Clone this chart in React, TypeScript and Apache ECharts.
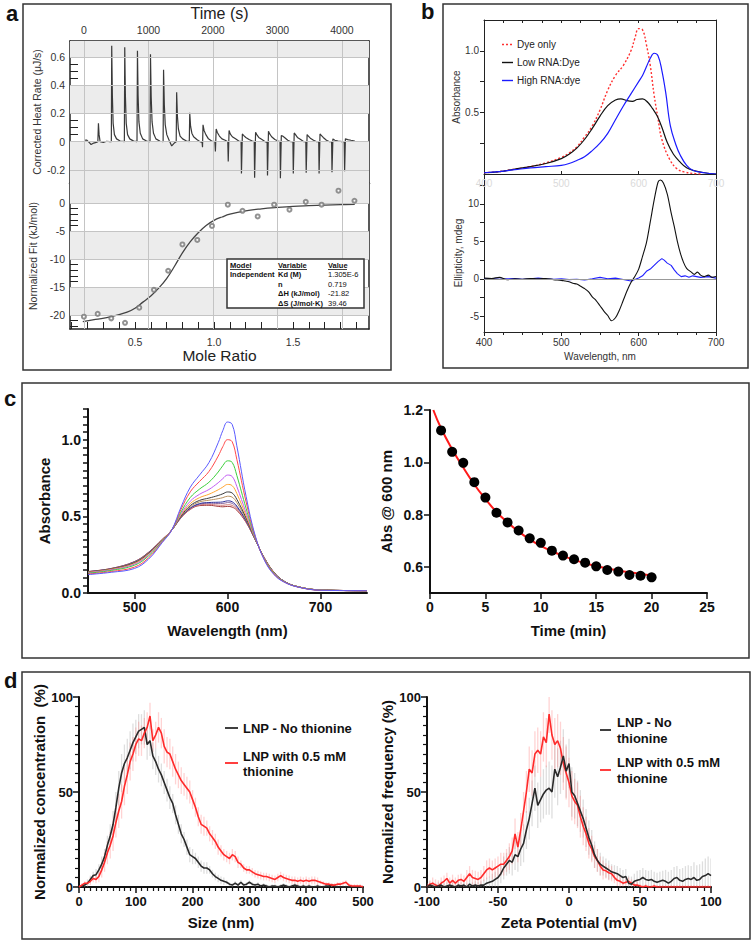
import React, { useEffect, useRef } from "react";
import * as echarts from "echarts";

const FONT = "'Liberation Sans', Arial, Helvetica, sans-serif";

// ---------------- Panel a : ITC ----------------
const heatTrace: number[][] = [
  [0,0.01],[40,0.012],[80,-0.005],[110,-0.02],[150,-0.01],[190,-0.005],[215,0],[224,0.13],[234,0.05],[250,0],[300,-0.005],[350,0.003],[400,0],
  [424,0],[430,0.68],[440,0.33],[452,0.13],[472,0.05],[505,0.02],[560,0.005],
  [626,0],[632,0.67],[642,0.33],[655,0.13],[676,0.05],[710,0.02],[770,0.004],
  [822,0],[829,0.645],[839,0.33],[852,0.14],[873,0.06],[910,0.02],[970,0.005],
  [1024,0],[1031,0.62],[1042,0.32],[1056,0.14],[1078,0.06],[1115,0.02],[1180,0.003],
  [1227,0],[1234,0.51],[1246,0.26],[1260,0.12],[1284,0.05],[1320,0.01],[1360,-0.03],[1400,-0.01],
  [1430,0],[1437,0.35],[1449,0.18],[1464,0.09],[1490,0.04],[1530,0.02],[1590,0.005],
  [1633,0],[1640,0.205],[1653,0.11],[1673,0.06],[1700,0.035],[1750,0.015],[1800,0],
  [1832,-0.005],[1838,-0.04],[1846,0.12],[1862,0.08],[1890,0.05],[1930,0.02],[1980,0.005],
  [2030,0],[2038,-0.07],[2050,0.09],[2068,0.065],[2100,0.04],[2140,0.02],[2190,0.01],
  [2230,0],[2237,-0.14],[2250,0.08],[2268,0.055],[2300,0.035],[2350,0.02],[2400,0.005],
  [2436,0],[2442,-0.225],[2456,0.055],[2474,0.045],[2510,0.03],[2560,0.015],[2610,0.005],
  [2640,0],[2646,-0.255],[2661,0.066],[2680,0.05],[2710,0.03],[2760,0.015],[2810,0],
  [2840,-0.005],[2846,-0.24],[2861,0.074],[2880,0.055],[2910,0.035],[2960,0.015],[3010,0.005],
  [3040,0],[3046,-0.26],[3060,0.043],[3080,0.04],[3110,0.03],[3160,0.01],[3210,0],
  [3240,0],[3246,-0.225],[3260,0.062],[3280,0.05],[3310,0.03],[3360,0.015],[3410,0],
  [3440,0],[3446,-0.22],[3460,0.05],[3480,0.04],[3510,0.025],[3560,0.01],[3610,0],
  [3640,0],[3646,-0.225],[3660,0.055],[3680,0.045],[3710,0.03],[3760,0.01],[3810,0],
  [3840,0],[3846,-0.217],[3860,0.02],[3890,0.01],[3940,0.005],[4000,0],
  [4036,0],[4042,-0.21],[4054,0.02],[4090,0.015],[4140,0.01],[4200,0.005],
];
const aTimeLabels = [0, 1000, 2000, 3000, 4000];
const aTimeTicks = [0, 500, 1000, 1500, 2000, 2500, 3000, 3500, 4000];
const aHeatLabels = [-0.2, 0, 0.2, 0.4, 0.6];
const aHeatTicks = [-0.25,-0.2,-0.15,-0.1,-0.05,0,0.05,0.1,0.15,0.2,0.25,0.3,0.35,0.4,0.45,0.5,0.55,0.6,0.65,0.7];
const moleRatio = [0.177,0.264,0.35,0.437,0.527,0.62,0.71,0.8,0.894,0.987,1.087,1.18,1.276,1.38,1.477,1.58,1.68,1.787,1.888];
const fitHeat = [-20.3,-19.8,-20.6,-21.4,-18.7,-15.5,-12.1,-7.4,-6.6,-4.1,-0.3,-1.4,-2.4,-0.3,-1.2,0.2,-0.3,2.2,0.4];
const fitCurveRatio = [0.17,0.25,0.35,0.45,0.5,0.55,0.6,0.65,0.7,0.75,0.8,0.85,0.9,0.95,1.0,1.05,1.1,1.2,1.3,1.4,1.5,1.6,1.7,1.8,1.89];
const fitCurveHeat = [-21.2,-20.8,-20.3,-19.5,-18.8,-17.7,-16.6,-15.2,-13.5,-11.3,-8.9,-6.9,-5.3,-4.0,-3.1,-2.5,-2.0,-1.4,-1.05,-0.8,-0.6,-0.48,-0.38,-0.3,-0.25];
const aMoleLabels = [0.5, 1.0, 1.5];
const aMoleTicks = [0.1,0.2,0.3,0.4,0.5,0.6,0.7,0.8,0.9,1.0,1.1,1.2,1.3,1.4,1.5,1.6,1.7,1.8,1.9];
const aFitLabels = [-20, -15, -10, -5, 0];
const aFitTicks = [-22,-21,-20,-19,-18,-17,-16,-15,-14,-13,-12,-11,-10,-9,-8,-7,-6,-5,-4,-3,-2,-1,0,1,2,3];

// ---------------- Panel b : absorbance / CD ----------------
const dyeOnly: number[][] = [[400,0.01],[420,0.02],[440,0.04],[460,0.06],[480,0.09],[500,0.135],[510,0.17],[520,0.22],[530,0.3],[540,0.39],[550,0.52],[560,0.68],[570,0.8],[580,0.88],[590,1.0],[595,1.1],[600,1.18],[605,1.17],[610,1.05],[615,0.88],[620,0.64],[625,0.45],[630,0.28],[640,0.12],[650,0.04],[660,0.015],[670,0.005],[680,0.0]];
const lowRna: number[][] = [[400,0.01],[420,0.02],[440,0.04],[460,0.06],[480,0.085],[500,0.125],[510,0.16],[520,0.21],[530,0.28],[540,0.37],[550,0.47],[560,0.555],[570,0.6],[577,0.61],[585,0.595],[592,0.59],[598,0.605],[605,0.61],[612,0.58],[618,0.53],[624,0.47],[630,0.38],[637,0.255],[645,0.16],[654,0.094],[662,0.05],[670,0.03],[685,0.01],[700,0.0]];
const highRna: number[][] = [[400,0.01],[420,0.02],[440,0.035],[460,0.05],[480,0.06],[500,0.07],[510,0.085],[520,0.11],[530,0.14],[540,0.19],[550,0.25],[560,0.33],[570,0.44],[580,0.55],[590,0.65],[600,0.75],[605,0.8],[610,0.87],[615,0.94],[620,0.98],[625,0.96],[630,0.84],[635,0.66],[641,0.39],[648,0.24],[654,0.15],[662,0.07],[670,0.03],[685,0.01],[700,0.0]];
const cdLow: number[][] = [[400,0.1],[410,0.05],[420,0.2],[430,-0.1],[440,0.0],[450,-0.05],[460,0.05],[470,0.0],[480,0.05],[490,-0.1],[500,-0.2],[505,-0.3],[510,-0.4],[515,-0.6],[520,-0.7],[525,-1.0],[530,-1.3],[535,-1.7],[540,-2.4],[545,-2.9],[550,-3.6],[555,-4.3],[560,-4.9],[565,-5.6],[570,-5.2],[575,-4.2],[580,-2.9],[585,-1.6],[590,-0.5],[595,0.3],[600,1.3],[605,3.0],[610,4.8],[615,7.6],[620,10.5],[625,12.9],[628,13.2],[632,12.8],[637,11.3],[642,8.8],[646,7.0],[650,5.0],[654,3.4],[658,2.2],[662,1.4],[668,0.9],[672,0.6],[676,0.9],[680,0.5],[685,0.3],[690,0.5],[695,0.2],[700,0.3]];
const cdHigh: number[][] = [[400,0.0],[410,0.05],[420,-0.05],[430,0.0],[440,0.05],[450,-0.05],[460,0.0],[470,0.1],[480,0.0],[490,-0.05],[500,0.0],[510,-0.1],[520,-0.05],[530,-0.15],[540,0.0],[550,0.2],[560,0.0],[570,0.1],[580,-0.1],[590,-0.3],[595,-0.1],[600,0.1],[605,0.4],[610,1.0],[615,1.3],[620,1.8],[625,2.3],[630,2.7],[633,2.5],[637,2.1],[642,1.8],[646,1.2],[650,0.7],[655,0.3],[660,0.4],[665,0.2],[670,0.4],[680,0.2],[690,0.3],[700,0.1]];
const bAbsLabels = [0.5, 1.0];
const bAbsTicks = [0.25, 0.5, 0.75, 1.0];
const bCdLabels = [-5, 0, 5, 10];
const bCdTicks = [-5, -2.5, 0, 2.5, 5, 7.5, 10, 12.5];

// ---------------- Panel c ----------------
const specWl = [450,475,500,515,530,540,550,560,570,580,590,595,600,605,610,620,630,640,650,660,675,700,750];
const specBlue   = [0.12,0.135,0.16,0.22,0.33,0.41,0.56,0.69,0.77,0.85,0.98,1.06,1.115,1.10,0.96,0.63,0.37,0.21,0.12,0.074,0.04,0.018,0.015];
const specRed    = [0.124,0.14,0.169,0.229,0.334,0.41,0.545,0.66,0.728,0.792,0.893,0.955,1.0,0.987,0.872,0.594,0.365,0.213,0.123,0.075,0.04,0.018,0.015];
const specGreen  = [0.129,0.147,0.181,0.241,0.339,0.41,0.528,0.623,0.678,0.722,0.789,0.831,0.862,0.852,0.767,0.552,0.359,0.217,0.127,0.077,0.041,0.019,0.015];
const specViolet = [0.133,0.151,0.188,0.248,0.343,0.41,0.516,0.599,0.644,0.675,0.719,0.746,0.769,0.76,0.695,0.523,0.354,0.219,0.129,0.078,0.041,0.019,0.015];
const specOrange = [0.135,0.154,0.193,0.253,0.345,0.41,0.508,0.583,0.622,0.644,0.673,0.691,0.708,0.7,0.649,0.504,0.352,0.221,0.131,0.078,0.042,0.02,0.015];
const specBlack  = [0.137,0.156,0.197,0.257,0.347,0.41,0.502,0.57,0.604,0.619,0.636,0.647,0.659,0.652,0.611,0.489,0.349,0.222,0.132,0.079,0.042,0.02,0.015];
const specTan    = [0.138,0.157,0.2,0.26,0.348,0.41,0.498,0.562,0.594,0.605,0.615,0.622,0.631,0.625,0.59,0.48,0.348,0.223,0.133,0.079,0.042,0.02,0.015];
const specNavy   = [0.139,0.158,0.202,0.262,0.349,0.41,0.495,0.554,0.583,0.59,0.592,0.594,0.601,0.595,0.567,0.471,0.347,0.224,0.134,0.08,0.042,0.02,0.015];
const specPurple = [0.139,0.159,0.203,0.263,0.349,0.41,0.493,0.552,0.579,0.585,0.584,0.584,0.59,0.584,0.559,0.468,0.346,0.224,0.134,0.08,0.042,0.02,0.015];
const specPink   = [0.14,0.16,0.204,0.264,0.35,0.41,0.491,0.548,0.574,0.578,0.573,0.572,0.576,0.571,0.548,0.463,0.346,0.225,0.135,0.08,0.042,0.02,0.015];
const specBrown  = [0.14,0.16,0.205,0.265,0.35,0.41,0.49,0.545,0.57,0.572,0.565,0.562,0.565,0.56,0.54,0.46,0.345,0.225,0.135,0.08,0.042,0.02,0.015];
const specSeries = [
  { name: "t0", color: "#5b5bff", values: specBlue },
  { name: "t1", color: "#ff4a4a", values: specRed },
  { name: "t2", color: "#3ccf3c", values: specGreen },
  { name: "t3", color: "#c25cf2", values: specViolet },
  { name: "t4", color: "#ffa534", values: specOrange },
  { name: "t5", color: "#3a3a3a", values: specBlack },
  { name: "t6", color: "#b89060", values: specTan },
  { name: "t7", color: "#30309a", values: specNavy },
  { name: "t8", color: "#8a6aa0", values: specPurple },
  { name: "t9", color: "#d47a7a", values: specPink },
  { name: "t10", color: "#a03838", values: specBrown },
];
const cWlLabels = [500, 600, 700];
const cAbsLabels = [0, 0.5, 1.0];
const cAbsTicks = [0,0.05,0.1,0.15,0.2,0.25,0.3,0.35,0.4,0.45,0.5,0.55,0.6,0.65,0.7,0.75,0.8,0.85,0.9,0.95,1.0,1.05,1.1,1.15,1.2];
const kinTime = [1,2,3,4,5,6,7,8,9,10,11,12,13,14,15,16,17,18,19,20];
const kinAbs = [1.122,1.04,0.998,0.924,0.865,0.807,0.77,0.739,0.709,0.692,0.662,0.643,0.629,0.616,0.602,0.588,0.582,0.569,0.566,0.56];
const kinFitTime = [0.3,1,2,3,4,5,6,7,8,9,10,11,12,13,14,15,16,17,18,19,20];
const kinFitAbs = [1.2,1.13,1.05,0.98,0.915,0.86,0.81,0.77,0.735,0.705,0.68,0.66,0.642,0.627,0.614,0.603,0.594,0.586,0.579,0.573,0.568];
const cKinLabels = [0.6, 0.8, 1.0, 1.2];

// ---------------- Panel d ----------------
const sizeStart = 0, sizeStep = 5;
const sizeBlack = [0,0.5,1,2,4,6,6.5,9,12,16, 22,27,33,42,52,60,65,68,72,76, 79,82,83,84,75,77,69,66,62,59, 55,51,47,44,38,33,28,25,21,17, 16,15,13,11,10,10,9,7,5.5,4.5, 3.5,3,2.5,1.5,1,2,1,2.5,1,1.5, 2.5,1.5,1,1.5,0.5,1,0.5,0,0.5,0.5, 0,0.5,1,0.5,0,0.5,1,0.5,0,0.5, 0,0.5,0,0,0.5,0,0,0.5,0.5,1, 0.5,0,0,0,0,0,0,0,0,0,0];
const sizeRed = [0,1,2,2,3,4.5,4,5.5,9,13, 18,22,27,34,40,45,53,59,66,70, 75,78,77,81,84,90,77,80,84,81, 74,71,70,66,62,59,56,54,52,50, 46,42,37,33,32,31,28,26,24,21, 19,17,16,15,17,16,13,12,10,9, 9,8,7,6.5,6,5.5,5.5,5,4.5,4, 5,6,5,4.5,4,3.5,3.5,3,3.5,3, 3.5,3,3.5,3.5,3,2.5,2,1.5,1.5,1, 1,1.5,1.5,2,2.5,1,0.5,0.5,0.5,0.5,0];
const sizeErrBlack = [1,1,1,2,2,2,3,3,4,4, 5,6,7,8,9,10,10,10,10,10, 9,9,8,9,8,8,7,7,7,6, 6,6,6,5,5,5,5,4,4,4, 4,3,3,3,3,3,2,2,2,2, 2,2,1,1,1,1,1,1,1,1, 1,1,1,1,1,1,1,1,1,1, 1,1,1,1,1,1,1,1,1,1, 1,1,1,1,1,1,1,1,1,1, 1,1,1,1,1,1,1,1,1,1,1];
const sizeErrRed = [1,1,1,1,2,2,2,3,4,5, 6,7,8,8,9,9,10,10,10,9, 9,9,8,8,8,7,6,7,8,8, 9,8,8,8,8,7,7,6,6,6, 5,5,5,5,5,4,4,4,4,4, 3,3,3,3,3,3,3,2,2,2, 2,2,2,2,2,2,2,2,2,2, 2,2,2,2,2,2,2,2,2,2, 2,2,2,2,2,1,1,1,1,1, 1,1,1,1,1,1,1,1,1,1,1];
const zetaStart = -100, zetaStep = 2;
const zetaBlack = [0,1,0.5,0,0.5,1,0,0.5,1,0.5, 0,1,0.5,1,0,1.5,0.5,1,0.5,1, 1,2,2.5,3,4,5,7,10,12,14, 13,17,16,20,23,30,36,44,52,43, 46,49,51,52,50,62,58,63,69,61, 65,50,48,44,40,36,31,26,22,17, 14,12,11,10,9,8,7.5,7,6,5, 5.5,2,1.5,3,3.5,4,5,4,3.5,4, 3,2.5,3,3.5,3,2,3,4.5,5,3.5, 3,4,4.5,4,5,3.5,4,5.5,6,7,6];
const zetaRed = [0,1.5,2,1,0.5,2,3,4.5,2,3.5, 2,3.5,4,3,5,7,5,4.5,4,5, 7,9,10,9,10,11,12,12,14,16, 19,28,21,30,40,50,62,60,70,72, 70,79,76,91,80,75,77,73,65,60, 55,48,45,43,37,32,28,23,20,16, 14,11,9,8.5,7.5,7,5,3.5,3,2, 2.5,3,2,1,1,0.5,0,0.5,0,0, 0.5,0,0,0,0,0,0,0,0,0, 0,0,0,0,0,0,0,0,0,0,0];
const zetaErrBlack = [2,2,2,2,2,2,2,2,2,2, 2,2,2,2,2,2,2,2,2,2, 3,3,3,4,4,5,5,6,6,7, 7,8,8,9,10,10,11,12,12,12, 12,13,13,14,14,15,15,14,14,14, 13,13,12,12,11,10,10,9,8,7, 6,6,5,5,5,4,4,4,4,4, 4,4,4,4,5,5,5,5,5,5, 5,5,5,5,6,6,6,6,6,6, 7,7,7,7,8,8,8,8,9,9,9];
const zetaErrRed = [2,2,3,3,3,3,3,3,3,3, 3,3,3,3,4,4,4,4,4,4, 4,5,5,5,5,5,6,6,6,7, 7,8,8,9,10,11,12,12,12,12, 12,13,13,10,13,14,14,14,14,14, 13,13,12,12,11,10,9,8,7,6, 6,5,5,4,4,4,3,3,3,2, 2,2,2,2,2,1,1,1,1,1, 1,1,1,1,1,1,1,1,1,1, 1,1,1,1,1,1,1,1,1,1,1];

// ---------------- helpers ----------------
const pairs = (xs: number[], ys: number[]) => xs.map((x, i) => [x, ys[i]]);
const seq = (start: number, step: number, vals: number[]) => vals.map((v, i) => [start + i * step, v]);
const triples = (start: number, step: number, vals: number[], errs: number[]) =>
  vals.map((v, i) => [start + i * step, v, errs[i]]);

const lineSeries = (xi: number, yi: number, data: number[][], color: string, width: number, extra: any = {}) => ({
  type: "line", xAxisIndex: xi, yAxisIndex: yi, data, showSymbol: false, symbol: "none",
  lineStyle: { color, width }, itemStyle: { color }, silent: true, z: 3, ...extra,
});

const errSeries = (xi: number, yi: number, data: number[][], color: string) => ({
  type: "custom", xAxisIndex: xi, yAxisIndex: yi, silent: true, z: 2, clip: true,
  encode: { x: 0, y: 1 },
  renderItem: (_p: any, api: any) => {
    const x = api.value(0), y = api.value(1), e = api.value(2);
    const lo = api.coord([x, Math.max(0, y - e)]);
    const hi = api.coord([x, y + e]);
    return { type: "line", shape: { x1: lo[0], y1: lo[1], x2: hi[0], y2: hi[1] }, style: { stroke: color, lineWidth: 1.3 } };
  },
  data,
});

const gridLines = (xi: number, yi: number, dir: "xAxis" | "yAxis", values: number[], color = "#c4c4c4") => ({
  type: "line", xAxisIndex: xi, yAxisIndex: yi, data: [], silent: true, z: 1,
  markLine: {
    silent: true, symbol: ["none", "none"], label: { show: false }, animation: false,
    lineStyle: { color, width: 1, type: "solid" },
    data: values.map((v) => ({ [dir]: v })),
  },
});

const A_TXT = { fontFamily: FONT, fontSize: 10, color: "#333" };
const B_TXT = { fontFamily: FONT, fontSize: 10, color: "#333" };
const C_TXT = { fontFamily: FONT, fontSize: 14, fontWeight: "bold", color: "#111" };
const D_TXT = { fontFamily: FONT, fontSize: 13, fontWeight: "bold", color: "#111" };
const C_NAME = { fontFamily: FONT, fontSize: 15, fontWeight: "bold", color: "#111" };

const noSplit = { show: false };
const boldLine = { show: true, onZero: false, lineStyle: { color: "#111", width: 2 } };
const boldTick = { lineStyle: { color: "#111", width: 1.5 } };
const plain = (v: number) => String(v);

const rightLine = (gridIndex: number, color = "#222", width = 1.2) => ({
  gridIndex, type: "value", position: "right", min: 0, max: 1,
  axisLine: { show: true, onZero: false, lineStyle: { color, width } },
  axisTick: { show: false }, axisLabel: { show: false }, splitLine: noSplit,
});

const gtext = (text: string, x: number, y: number, size: number, weight = "normal", color = "#111", extra: any = {}) => ({
  type: "text", x, y, z: 100, silent: true,
  style: { text, fontFamily: FONT, fontSize: size, fontWeight: weight, fill: color, align: "left", verticalAlign: "middle", ...extra },
});
const gline = (x1: number, y1: number, x2: number, y2: number, color: string, width: number, dash?: number[]) => ({
  type: "line", z: 100, silent: true, shape: { x1, y1, x2, y2 },
  style: { stroke: color, lineWidth: width, lineDash: dash },
});
const frame = (x: number, y: number, w: number, h: number) => ({
  type: "rect", z: 0, silent: true, shape: { x, y, width: w, height: h },
  style: { fill: "none", stroke: "#333", lineWidth: 1.5 },
});

function buildOption(): any {
  const grids = [
    { left: 70, top: 41, width: 299, height: 142 },   // 0 a top
    { left: 70, top: 183, width: 299, height: 146 },  // 1 a bottom
    { left: 70, top: 41, width: 299, height: 288 },   // 2 a full (vertical grid)
    { left: 484, top: 20, width: 232, height: 154 },  // 3 b top
    { left: 484, top: 174, width: 232, height: 158 }, // 4 b bottom
    { left: 88, top: 409, width: 279, height: 184 },  // 5 c left
    { left: 430, top: 410, width: 277, height: 183 }, // 6 c right
    { left: 79, top: 697, width: 284, height: 190 },  // 7 d left
    { left: 427, top: 697, width: 284, height: 190 }, // 8 d right
  ].map((g) => ({ ...g, containLabel: false, outerBoundsMode: "none" }));

  const xAxis: any[] = [
    { // 0 time (top)
      gridIndex: 0, type: "value", position: "top", min: -217, max: 4420,
      axisLine: { show: true, onZero: false, lineStyle: { color: "#222", width: 1.5 } },
      axisTick: { show: true, inside: true, length: 7, customValues: aTimeTicks, lineStyle: { color: "#222" } },
      axisLabel: { ...A_TXT, fontSize: 10.5, customValues: aTimeLabels, margin: 6, formatter: plain },
      splitLine: noSplit,
      name: "Time (s)", nameLocation: "middle", nameGap: 20,
      nameTextStyle: { fontFamily: FONT, fontSize: 16, color: "#222" },
    },
    { // 1 mole ratio
      gridIndex: 1, type: "value", position: "bottom", min: 0.089, max: 1.98,
      axisLine: { show: true, onZero: false, lineStyle: { color: "#222", width: 1.5 } },
      axisTick: { show: true, inside: true, length: 7, customValues: aMoleTicks, lineStyle: { color: "#222" } },
      axisLabel: { ...A_TXT, fontSize: 10.5, customValues: aMoleLabels, margin: 7, formatter: (v: number) => v.toFixed(1) },
      splitLine: noSplit,
      name: "Mole Ratio", nameLocation: "middle", nameGap: 18,
      nameTextStyle: { fontFamily: FONT, fontSize: 15.5, color: "#222" },
    },
    { gridIndex: 2, type: "value", min: -217, max: 4420, show: false }, // 2
    { // 3 b top bottom-edge, faded labels
      gridIndex: 3, type: "value", position: "bottom", min: 400, max: 700, interval: 100,
      axisLine: { show: true, onZero: false, lineStyle: { color: "#222", width: 1 } },
      axisTick: { show: true, inside: true, length: 3, lineStyle: { color: "#222" } },
      axisLabel: { ...B_TXT, color: "#dadada", margin: 4 },
      splitLine: noSplit,
    },
    { // 4 b top top-edge ticks
      gridIndex: 3, type: "value", position: "top", min: 400, max: 700, interval: 25,
      axisLine: { show: true, onZero: false, lineStyle: { color: "#222", width: 1 } },
      axisTick: { show: true, inside: true, length: 3, lineStyle: { color: "#222" } },
      axisLabel: { show: false }, splitLine: noSplit,
    },
    { // 5 b bottom wavelength
      gridIndex: 4, type: "value", position: "bottom", min: 400, max: 700, interval: 100,
      axisLine: { show: true, onZero: false, lineStyle: { color: "#222", width: 1 } },
      axisTick: { show: true, length: 4, lineStyle: { color: "#222" } },
      minorTick: { show: true, splitNumber: 4, length: 3, lineStyle: { color: "#222" } },
      axisLabel: { ...B_TXT, margin: 5 },
      splitLine: noSplit,
      name: "Wavelength, nm", nameLocation: "middle", nameGap: 19,
      nameTextStyle: { fontFamily: FONT, fontSize: 10, color: "#333" },
    },
    { // 6 c wavelength
      gridIndex: 5, type: "value", position: "bottom", min: 450, max: 750,
      axisLine: boldLine,
      axisTick: { show: true, length: 6, customValues: cWlLabels, ...boldTick },
      axisLabel: { ...C_TXT, customValues: cWlLabels, margin: 7 },
      splitLine: noSplit,
      name: "Wavelength (nm)", nameLocation: "middle", nameGap: 30, nameTextStyle: C_NAME,
    },
    { // 7 c time
      gridIndex: 6, type: "value", position: "bottom", min: 0, max: 25, interval: 5,
      axisLine: boldLine,
      axisTick: { show: true, length: 6, ...boldTick },
      axisLabel: { ...C_TXT, margin: 7 },
      splitLine: noSplit,
      name: "Time (min)", nameLocation: "middle", nameGap: 30, nameTextStyle: C_NAME,
    },
    { // 8 d size
      gridIndex: 7, type: "value", position: "bottom", min: 0, max: 500, interval: 100,
      axisLine: boldLine,
      axisTick: { show: true, length: 6, ...boldTick },
      minorTick: { show: true, splitNumber: 10, length: 4, lineStyle: { color: "#111", width: 1.2 } },
      axisLabel: { ...D_TXT, margin: 8 },
      splitLine: noSplit,
      name: "Size (nm)", nameLocation: "middle", nameGap: 28, nameTextStyle: C_NAME,
    },
    { // 9 d zeta
      gridIndex: 8, type: "value", position: "bottom", min: -100, max: 100, interval: 50,
      axisLine: boldLine,
      axisTick: { show: true, length: 6, ...boldTick },
      minorTick: { show: true, splitNumber: 10, length: 4, lineStyle: { color: "#111", width: 1.2 } },
      axisLabel: { ...D_TXT, margin: 8 },
      splitLine: noSplit,
      name: "Zeta Potential (mV)", nameLocation: "middle", nameGap: 28, nameTextStyle: C_NAME,
    },
    { // 10 a separator
      gridIndex: 1, type: "value", position: "top", min: 0.089, max: 1.98,
      axisLine: { show: true, onZero: false, lineStyle: { color: "#555", width: 2.5 } },
      axisTick: { show: false }, axisLabel: { show: false }, splitLine: noSplit,
    },
  ];

  const yAxis: any[] = [
    { // 0 heat
      gridIndex: 0, type: "value", min: -0.293, max: 0.714,
      axisLine: { show: true, onZero: false, lineStyle: { color: "#222", width: 1.5 } },
      axisTick: { show: true, inside: true, length: 8, customValues: aHeatTicks, lineStyle: { color: "#222" } },
      axisLabel: { ...A_TXT, fontSize: 10.5, customValues: aHeatLabels, margin: 5, formatter: (v: number) => (v === 0 ? "0" : v.toFixed(1)) },
      splitLine: noSplit,
      name: "Corrected Heat Rate (μJ/s)", nameLocation: "middle", nameGap: 28,
      nameTextStyle: { fontFamily: FONT, fontSize: 10.5, color: "#333" },
    },
    { // 1 fit
      gridIndex: 1, type: "value", min: -22.5, max: 3.57,
      axisLine: { show: true, onZero: false, lineStyle: { color: "#222", width: 1.5 } },
      axisTick: { show: true, inside: true, length: 8, customValues: aFitTicks, lineStyle: { color: "#222" } },
      axisLabel: { ...A_TXT, fontSize: 10.5, customValues: aFitLabels, margin: 5 },
      splitLine: noSplit,
      name: "Normalized Fit (kJ/mol)", nameLocation: "middle", nameGap: 32,
      nameTextStyle: { fontFamily: FONT, fontSize: 10.5, color: "#333" },
    },
    { gridIndex: 2, type: "value", min: 0, max: 1, show: false }, // 2
    { // 3 absorbance b
      gridIndex: 3, type: "value", min: 0, max: 1.25,
      axisLine: { show: true, onZero: false, lineStyle: { color: "#222", width: 1 } },
      axisTick: { show: true, length: 4, customValues: bAbsTicks, lineStyle: { color: "#222" } },
      axisLabel: { ...B_TXT, customValues: bAbsLabels, margin: 5, formatter: (v: number) => v.toFixed(1) },
      splitLine: noSplit,
      name: "Absorbance", nameLocation: "middle", nameGap: 21,
      nameTextStyle: { fontFamily: FONT, fontSize: 10, color: "#333" },
    },
    rightLine(3, "#222", 1), // 4
    { // 5 ellipticity
      gridIndex: 4, type: "value", min: -7.1, max: 14.0,
      axisLine: { show: true, onZero: false, lineStyle: { color: "#222", width: 1 } },
      axisTick: { show: true, length: 4, customValues: bCdTicks, lineStyle: { color: "#222" } },
      axisLabel: { ...B_TXT, customValues: bCdLabels, margin: 5 },
      splitLine: noSplit,
      name: "Ellipticity, mdeg", nameLocation: "middle", nameGap: 21,
      nameTextStyle: { fontFamily: FONT, fontSize: 10, color: "#333" },
    },
    rightLine(4, "#222", 1), // 6
    { // 7 absorbance c
      gridIndex: 5, type: "value", min: 0, max: 1.2,
      axisLine: boldLine,
      axisTick: { show: true, length: 5, customValues: cAbsTicks, ...boldTick },
      axisLabel: { ...C_TXT, customValues: cAbsLabels, margin: 7, formatter: (v: number) => v.toFixed(1) },
      splitLine: noSplit,
      name: "Absorbance", nameLocation: "middle", nameGap: 36, nameTextStyle: C_NAME,
    },
    { // 8 abs @ 600
      gridIndex: 6, type: "value", min: 0.5, max: 1.2,
      axisLine: boldLine,
      axisTick: { show: true, length: 6, customValues: cKinLabels, ...boldTick },
      axisLabel: { ...C_TXT, customValues: cKinLabels, margin: 7, formatter: (v: number) => v.toFixed(1) },
      splitLine: noSplit,
      name: "Abs @ 600 nm", nameLocation: "middle", nameGap: 36, nameTextStyle: C_NAME,
    },
    { // 9 norm conc
      gridIndex: 7, type: "value", min: 0, max: 100, interval: 50,
      axisLine: boldLine,
      axisTick: { show: true, length: 6, ...boldTick },
      minorTick: { show: true, splitNumber: 10, length: 4, lineStyle: { color: "#111", width: 1.2 } },
      axisLabel: { ...D_TXT, margin: 6 },
      splitLine: noSplit,
      name: "Normalized concentration  (%)", nameLocation: "middle", nameGap: 31, nameTextStyle: C_NAME,
    },
    { // 10 norm freq
      gridIndex: 8, type: "value", min: 0, max: 100, interval: 50,
      axisLine: boldLine,
      axisTick: { show: true, length: 6, ...boldTick },
      minorTick: { show: true, splitNumber: 10, length: 4, lineStyle: { color: "#111", width: 1.2 } },
      axisLabel: { ...D_TXT, margin: 6 },
      splitLine: noSplit,
      name: "Normalized frequency (%)", nameLocation: "middle", nameGap: 31, nameTextStyle: C_NAME,
    },
    rightLine(0, "#222", 1.5), // 11
    rightLine(1, "#222", 1.5), // 12
  ];

  const series: any[] = [
    // ---- panel a backgrounds
    {
      type: "line", xAxisIndex: 0, yAxisIndex: 0, data: [], silent: true, z: 0,
      markArea: {
        silent: true, itemStyle: { color: "#ececec" },
        data: [[{ yAxis: 0.6 }, { yAxis: 0.714 }], [{ yAxis: 0.2 }, { yAxis: 0.4 }], [{ yAxis: -0.293 }, { yAxis: 0 }]],
      },
    },
    {
      type: "line", xAxisIndex: 1, yAxisIndex: 1, data: [], silent: true, z: 0,
      markArea: {
        silent: true, itemStyle: { color: "#ececec" },
        data: [[{ yAxis: 0 }, { yAxis: 3.57 }], [{ yAxis: -10 }, { yAxis: -5 }], [{ yAxis: -20 }, { yAxis: -15 }]],
      },
    },
    gridLines(0, 0, "yAxis", aHeatLabels),
    gridLines(1, 1, "yAxis", aFitLabels),
    gridLines(2, 2, "xAxis", aTimeLabels),
    lineSeries(0, 0, heatTrace, "#3a3a3a", 1.2, { z: 4 }),
    lineSeries(1, 1, pairs(fitCurveRatio, fitCurveHeat), "#444", 1.3, { smooth: 0.4, z: 4 }),
    {
      type: "scatter", xAxisIndex: 1, yAxisIndex: 1, data: pairs(moleRatio, fitHeat), silent: true, z: 5,
      symbol: "emptyCircle", symbolSize: 4, itemStyle: { color: "#777", borderWidth: 0.8 },
    },
    // ---- panel b
    lineSeries(3, 3, dyeOnly, "#ff3030", 1.4, { smooth: 0.4, lineStyle: { color: "#ff3030", width: 1.4, type: [2, 2] } }),
    lineSeries(3, 3, lowRna, "#111", 1.2, { smooth: 0.4 }),
    lineSeries(3, 3, highRna, "#1a1aff", 1.2, { smooth: 0.4 }),
    gridLines(5, 5, "yAxis", [0], "#999"),
    lineSeries(5, 5, cdHigh, "#2020ff", 1.1),
    lineSeries(5, 5, cdLow, "#111", 1.1, { smooth: 0.3 }),
    // ---- panel c
    ...specSeries.slice().reverse().map((s) => lineSeries(6, 7, pairs(specWl, s.values), s.color, 1, { smooth: 0.4, name: s.name })),
    lineSeries(7, 8, pairs(kinFitTime, kinFitAbs), "#ff1a1a", 2, { smooth: 0.5 }),
    {
      type: "scatter", xAxisIndex: 7, yAxisIndex: 8, data: pairs(kinTime, kinAbs), silent: true, z: 5,
      symbol: "circle", symbolSize: 10, itemStyle: { color: "#000", opacity: 1 },
    },
    // ---- panel d
    errSeries(8, 9, triples(sizeStart, sizeStep, sizeBlack, sizeErrBlack), "rgba(160,160,160,0.35)"),
    errSeries(8, 9, triples(sizeStart, sizeStep, sizeRed, sizeErrRed), "rgba(255,110,110,0.3)"),
    lineSeries(8, 9, seq(sizeStart, sizeStep, sizeBlack), "#2a2a2a", 1.6),
    lineSeries(8, 9, seq(sizeStart, sizeStep, sizeRed), "#ff2a2a", 1.6),
    errSeries(9, 10, triples(zetaStart, zetaStep, zetaBlack, zetaErrBlack), "rgba(160,160,160,0.35)"),
    errSeries(9, 10, triples(zetaStart, zetaStep, zetaRed, zetaErrRed), "rgba(255,110,110,0.3)"),
    lineSeries(9, 10, seq(zetaStart, zetaStep, zetaRed), "#ff2a2a", 1.6),
    lineSeries(9, 10, seq(zetaStart, zetaStep, zetaBlack), "#2a2a2a", 1.6),
  ];

  const graphic: any[] = [
    frame(23, 4, 368, 366),
    frame(443, 4, 305, 364),
    frame(22, 383, 727, 275),
    frame(22, 672, 728, 267),
    gtext("a", 6, 13, 22, "bold"),
    gtext("b", 421, 11, 22, "bold"),
    gtext("c", 4, 398, 22, "bold"),
    gtext("d", 4, 680, 22, "bold"),
    // table in panel a
    { type: "rect", z: 99, silent: true, shape: { x: 227, y: 259, width: 137, height: 49 }, style: { fill: "#fff", stroke: "#333", lineWidth: 1.5 } },
    gtext("Model", 230, 265, 7.5, "bold"), gtext("Variable", 278, 265, 7.5, "bold"), gtext("Value", 328, 265, 7.5, "bold"),
    gline(230, 269.5, 251, 269.5, "#111", 0.8), gline(278, 269.5, 307, 269.5, "#111", 0.8), gline(328, 269.5, 347, 269.5, "#111", 0.8),
    gtext("Independent", 230, 274.5, 7.5, "bold"), gtext("Kd (M)", 278, 274.5, 7.5, "bold"), gtext("1.305E-6", 328, 274.5, 7.5),
    gtext("n", 278, 284, 7.5, "bold"), gtext("0.719", 328, 284, 7.5),
    gtext("ΔH (kJ/mol)", 278, 293.5, 7.5, "bold"), gtext("-21.82", 328, 293.5, 7.5),
    gtext("ΔS (J/mol·K)", 278, 303, 7.5, "bold"), gtext("39.46", 328, 303, 7.5),
    // panel b legend
    gline(502, 44.5, 513, 44.5, "#ff3030", 1.4, [2, 2]), gtext("Dye only", 517, 44.5, 10, "normal", "#222"),
    gline(502, 62.5, 513, 62.5, "#111", 1.4), gtext("Low RNA:Dye", 517, 62.5, 10, "normal", "#222"),
    gline(502, 80.5, 513, 80.5, "#1a1aff", 1.4), gtext("High RNA:dye", 517, 80.5, 10, "normal", "#222"),
    // panel d legends
    gline(225, 728, 238, 728, "#2a2a2a", 1.8), gtext("LNP - No thionine", 243, 728, 13, "bold"),
    gline(225, 763, 238, 763, "#ff2a2a", 1.8), gtext("LNP with 0.5 mM", 243, 756, 13, "bold"), gtext("thionine", 243, 771, 13, "bold"),
    gline(600, 730, 611, 730, "#2a2a2a", 1.8), gtext("LNP - No", 617, 722, 13, "bold"), gtext("thionine", 617, 738, 13, "bold"),
    gline(600, 770, 611, 770, "#ff2a2a", 1.8), gtext("LNP with 0.5 mM", 617, 762, 13, "bold"), gtext("thionine", 617, 778, 13, "bold"),
  ];

  return {
    animation: false,
    backgroundColor: "#fff",
    textStyle: { fontFamily: FONT },
    grid: grids,
    xAxis,
    yAxis,
    series,
    graphic,
  };
}

export default function App() {
  const ref = useRef<HTMLDivElement>(null);
  useEffect(() => {
    if (!ref.current) return;
    const chart = echarts.init(ref.current, null, { renderer: "svg" });
    chart.setOption(buildOption());
    return () => chart.dispose();
  }, []);
  return (
    <div
      ref={ref}
      style={{ position: "absolute", left: 0, top: 0, width: 756, height: 944, background: "#fff" }}
    />
  );
}
